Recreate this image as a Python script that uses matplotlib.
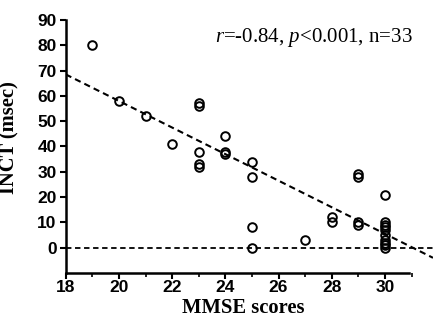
import matplotlib
matplotlib.use("Agg")
import matplotlib.pyplot as plt
from matplotlib.ticker import MultipleLocator

# Data
mmse = [19, 20, 21, 22,
        23, 23, 23, 23, 23,
        24, 24, 24,
        25, 25, 25, 25,
        27,
        28, 28,
        29, 29, 29, 29,
        30, 30, 30, 30, 30, 30, 30, 30, 30, 30]
inct = [80, 58, 52, 41,
        57, 56, 38, 33, 32,
        44, 38, 37,
        34, 28, 8, 0,
        3,
        12, 10,
        29, 28, 10, 9,
        21, 10, 9, 8, 7, 5, 3, 2, 1, 0]

reg_intercept = 163.0
reg_slope = -5.25

x_ticks = [18, 20, 22, 24, 26, 28, 30]
y_ticks = [0, 10, 20, 30, 40, 50, 60, 70, 80, 90]
stats_text = r"$\mathit{r}$=-0.84, $\mathit{p}$<0.001, n=33"

plt.rcParams['mathtext.fontset'] = 'custom'
plt.rcParams['mathtext.rm'] = 'Liberation Serif'
plt.rcParams['mathtext.it'] = 'Liberation Serif:italic'

fig = plt.figure(figsize=(4.33, 3.23), dpi=100)
W, H = 433, 323
left_px, right_px = 65.7, 433
top_px, bot_px = 20, 273
ax = fig.add_axes([left_px / W, 1 - bot_px / H, (right_px - left_px) / W, (bot_px - top_px) / H])

xmax = 18 + (right_px - left_px) / 26.6
ax.set_xlim(18, xmax)
ax.set_ylim(-10, 90)

# zero line
ax.plot([18, xmax], [0, 0], ls=(0, (3, 2)), color='black', lw=1.3, clip_on=False)
# regression line
xs = [18, xmax]
ax.plot(xs, [reg_intercept + reg_slope * v for v in xs], ls=(0, (3, 2)), color='black', lw=1.5)

ax.plot(mmse, inct, 'o', mfc='none', mec='black', ms=6.2, mew=1.4, clip_on=False)

for s in ['top', 'right']:
    ax.spines[s].set_visible(False)
ax.spines['left'].set_linewidth(1.8)
ax.spines['bottom'].set_linewidth(1.8)
ax.spines['bottom'].set_bounds(18, 30.9)

ax.set_xticks(x_ticks)
ax.set_yticks(y_ticks)
ax.xaxis.set_minor_locator(MultipleLocator(1))
ax.tick_params(axis='both', which='major', direction='out', length=4.5, width=1.5,
               labelsize=12.5, pad=2)
ax.tick_params(axis='x', which='major', pad=0.5)
ax.tick_params(axis='x', which='minor', direction='out', length=3, width=1.2)
for lab in ax.get_xticklabels() + ax.get_yticklabels():
    lab.set_fontfamily('Liberation Sans')
    lab.set_fontweight('bold')

ax.set_xlabel('MMSE scores', fontfamily='Liberation Serif', fontweight='bold', fontsize=14.8, labelpad=0)
ax.xaxis.set_label_coords(0.483, -0.1)
ax.xaxis.label.set_va('top')
ax.set_ylabel('INCT (msec)', fontfamily='Liberation Serif', fontweight='bold', fontsize=14.8)
ax.yaxis.set_label_coords(-0.125, 0.536)

ax.text(31.06, 82.9, stats_text, fontfamily='Liberation Serif', fontsize=15,
        ha='right', va='center')

fig.savefig('out.png', dpi=100)
